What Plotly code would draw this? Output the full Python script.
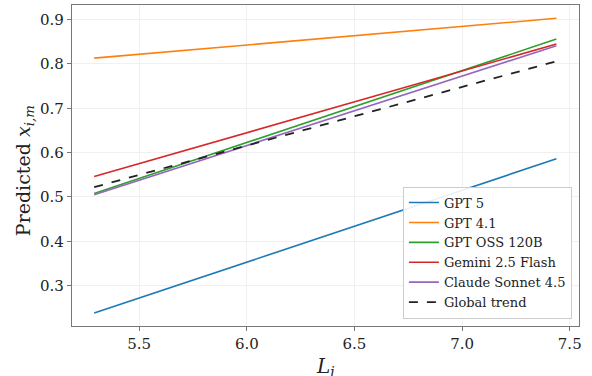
import plotly.graph_objects as go

models = ["GPT 5", "GPT 4.1", "GPT OSS 120B", "Gemini 2.5 Flash", "Claude Sonnet 4.5"]
colors = ["#1f77b4", "#ff7f0e", "#2ca02c", "#d62728", "#9467bd"]
L_range = [5.291, 7.438]
start_vals = [0.238, 0.813, 0.508, 0.546, 0.505]
end_vals = [0.586, 0.903, 0.856, 0.845, 0.841]
global_trend = [0.522, 0.806]

font_family = "DejaVu Serif"

fig = go.Figure()
for name, c, s, e in zip(models, colors, start_vals, end_vals):
    fig.add_trace(go.Scatter(x=L_range, y=[s, e], mode="lines", name=name,
                             line=dict(color=c, width=1.6)))
fig.add_trace(go.Scatter(x=L_range, y=global_trend, mode="lines", name="Global trend",
                         line=dict(color="#222222", width=1.8, dash="dash")))

axis_common = dict(
    showline=True, linecolor="#777777", linewidth=1.2, mirror=True,
    showgrid=True, gridcolor="#f0f0f0", gridwidth=1,
    ticks="outside", ticklen=4, tickcolor="#777777",
    tickfont=dict(family=font_family, size=15, color="#222222"),
    zeroline=False,
)

fig.update_layout(
    width=592, height=376,
    margin=dict(l=72, r=13, t=5, b=50),
    paper_bgcolor="white", plot_bgcolor="white",
    font=dict(family=font_family, color="#222222"),
    xaxis=dict(range=[5.188, 7.543], tickvals=[5.5, 6.0, 6.5, 7.0, 7.5],
               ticktext=["5.5", "6.0", "6.5", "7.0", "7.5"], **axis_common),
    yaxis=dict(range=[0.2089, 0.9329], tickvals=[0.3, 0.4, 0.5, 0.6, 0.7, 0.8, 0.9],
               ticktext=["0.3", "0.4", "0.5", "0.6", "0.7", "0.8", "0.9"], **axis_common),
    legend=dict(x=0.986, y=0.023, xanchor="right", yanchor="bottom",
                bgcolor="rgba(255,255,255,0.9)", bordercolor="#cccccc", borderwidth=1,
                font=dict(family=font_family, size=13, color="#222222"),
                tracegroupgap=0, itemwidth=30),
    showlegend=True,
    annotations=[
        dict(text="<i>L</i><sub><i>i</i></sub>", xref="paper", yref="paper",
             x=0.5, y=-0.08, xanchor="center", yanchor="top", showarrow=False,
             font=dict(family=font_family, size=20, color="#222222")),
        dict(text="Predicted <i>x</i><sub><i>i,m</i></sub>", xref="paper", yref="paper",
             x=-0.095, y=0.485, xanchor="center", yanchor="middle", showarrow=False,
             textangle=-90, font=dict(family=font_family, size=19, color="#222222")),
    ],
)

fig.write_html("out.html", config={"displayModeBar": False},
               post_script="document.body.style.margin='0';document.body.style.padding='0';")
